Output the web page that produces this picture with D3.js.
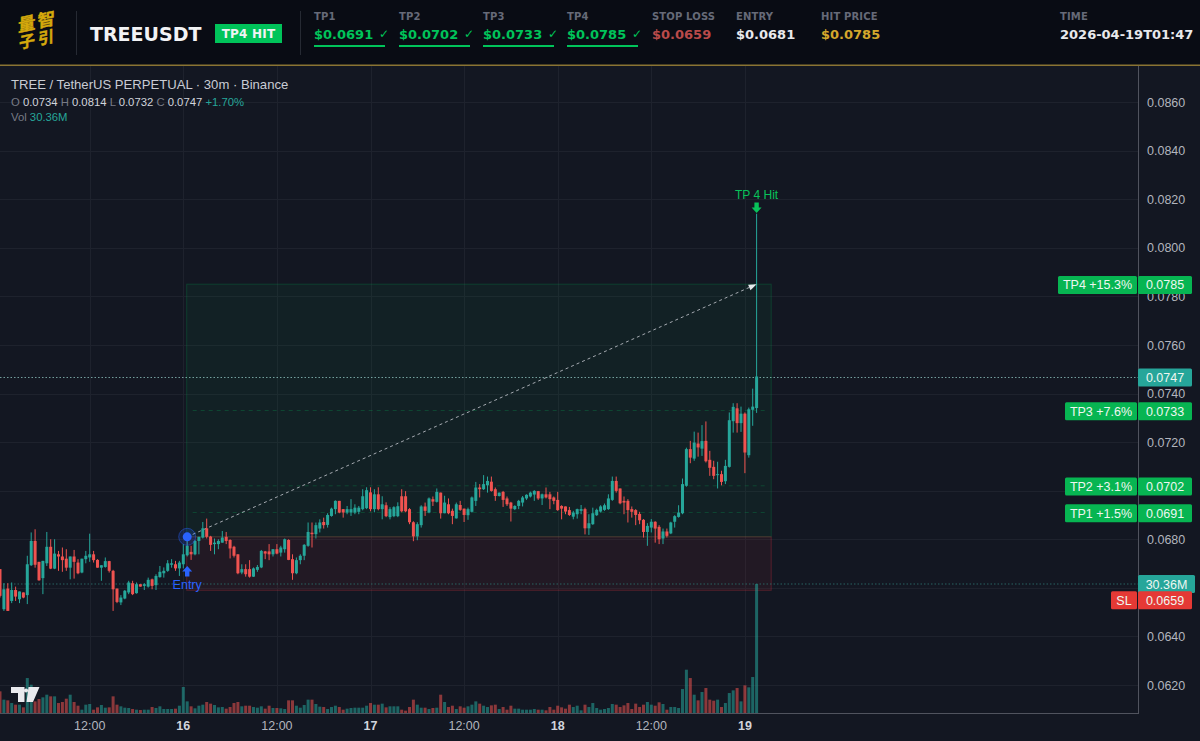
<!DOCTYPE html>
<html><head><meta charset="utf-8">
<script src="https://cdn.jsdelivr.net/npm/d3@7/dist/d3.min.js"></script>
<style>
html,body{margin:0;padding:0;background:#131722;overflow:hidden}
svg{display:block}
text{font-family:"Liberation Sans",Arial,sans-serif}
.hd{font-family:"DejaVu Sans",sans-serif;font-weight:700}
</style></head><body><svg id="c" width="1200" height="741"></svg>
<script>
const opens=[0.06677,0.06512,0.06597,0.06546,0.06591,0.06553,0.06581,0.0657,0.06693,0.06793,
0.06707,0.0664,0.06701,0.06769,0.06679,0.06738,0.06729,0.0672,0.06683,0.06729,
0.06704,0.06663,0.06718,0.06725,0.06738,0.06715,0.06683,0.06686,0.0671,0.0667,
0.06597,0.0654,0.06556,0.06581,0.06619,0.06578,0.06615,0.06608,0.06605,0.06635,
0.06611,0.06644,0.0666,0.0667,0.06695,0.06697,0.0668,0.06697,0.06734,0.06748,
0.06738,0.06793,0.06807,0.06845,0.06811,0.0678,0.0678,0.06786,0.0681,0.06797,
0.06769,0.06738,0.06663,0.06677,0.06677,0.06646,0.06674,0.06684,0.0675,0.0675,
0.06738,0.06759,0.06745,0.06759,0.06797,0.06718,0.0666,0.06714,0.06732,0.06773,
0.06827,0.06821,0.06844,0.06871,0.06859,0.06896,0.06924,0.06958,0.06924,0.0691,
0.0691,0.0691,0.06913,0.06924,0.06928,0.06993,0.06924,0.06985,0.06924,0.0694,
0.06891,0.06895,0.06895,0.06977,0.06977,0.06924,0.0687,0.06812,0.06858,0.06935,
0.0691,0.06965,0.06954,0.06992,0.06907,0.06944,0.06917,0.06886,0.06941,0.06926,
0.06899,0.06913,0.06958,0.07013,0.07006,0.07022,0.07037,0.07006,0.06978,0.06995,
0.06968,0.06951,0.06924,0.06937,0.06951,0.06968,0.06976,0.06984,0.06998,0.06968,
0.06985,0.06985,0.06972,0.06962,0.06937,0.06935,0.0692,0.06893,0.06903,0.06917,
0.06924,0.06845,0.06862,0.06899,0.06914,0.06921,0.06924,0.06962,0.0704,0.07009,
0.06958,0.06958,0.06924,0.0692,0.06904,0.0688,0.0683,0.06848,0.06872,0.06851,
0.06803,0.06832,0.06824,0.06872,0.06892,0.06907,0.0702,0.07171,0.07132,0.07194,
0.07173,0.07205,0.07127,0.07098,0.07064,0.07068,0.07039,0.07098,0.07286,0.07339,
0.07278,0.07317,0.07146,0.07333,0.0734];
const highs=[0.06677,0.06619,0.06619,0.06622,0.06605,0.06585,0.06581,0.06732,0.06828,0.06841,
0.06707,0.06711,0.0683,0.068,0.068,0.06752,0.06766,0.06759,0.06729,0.06756,
0.06718,0.0672,0.06752,0.06823,0.06752,0.06718,0.06693,0.06725,0.06711,0.06674,
0.06597,0.0657,0.06591,0.06629,0.06629,0.06622,0.06615,0.06619,0.06642,0.06638,
0.06656,0.0669,0.06684,0.06714,0.06718,0.06711,0.06711,0.0678,0.06816,0.06773,
0.06797,0.0681,0.06871,0.06885,0.06814,0.06803,0.068,0.06834,0.0683,0.068,
0.06773,0.06738,0.06697,0.06697,0.06714,0.06684,0.06694,0.06756,0.06752,0.0678,
0.06759,0.0678,0.06773,0.06803,0.068,0.06738,0.06725,0.06738,0.0678,0.06869,
0.06869,0.06869,0.06882,0.06889,0.06907,0.0693,0.0696,0.06958,0.06924,0.06937,
0.06965,0.06944,0.06937,0.07006,0.07014,0.07014,0.07006,0.07014,0.06977,0.06952,
0.06932,0.06936,0.06952,0.07006,0.06998,0.06928,0.06874,0.0687,0.0694,0.06951,
0.06972,0.06976,0.07009,0.06992,0.06979,0.06968,0.06926,0.06951,0.06958,0.06926,
0.0693,0.06976,0.07036,0.07027,0.07064,0.07058,0.07058,0.07013,0.06992,0.06999,
0.06976,0.06954,0.0694,0.06962,0.06978,0.06985,0.06996,0.07002,0.06999,0.06988,
0.07013,0.06995,0.06976,0.06995,0.0694,0.06935,0.06933,0.06917,0.06926,0.06941,
0.0693,0.06903,0.0693,0.06926,0.0694,0.06947,0.06985,0.07058,0.07058,0.07009,
0.06976,0.06965,0.06935,0.06924,0.06913,0.06883,0.06866,0.06883,0.06874,0.06858,
0.06844,0.06844,0.06872,0.06899,0.0694,0.0705,0.07177,0.07205,0.07243,0.07239,
0.0727,0.07285,0.07164,0.07123,0.07119,0.07082,0.07127,0.07322,0.0736,0.0736,
0.07346,0.07322,0.07342,0.0742,0.0814];
const lows=[0.0656,0.06505,0.06505,0.06537,0.06546,0.06537,0.06557,0.06533,0.0669,0.06683,
0.06629,0.06574,0.0669,0.06677,0.06677,0.0667,0.06666,0.0667,0.06635,0.06638,
0.06656,0.0666,0.06701,0.06707,0.06704,0.06683,0.06629,0.06683,0.06663,0.06505,
0.06537,0.06529,0.06553,0.06574,0.0657,0.06576,0.06605,0.06591,0.06601,0.06594,
0.06591,0.06642,0.06642,0.06666,0.06683,0.0667,0.06649,0.0668,0.06729,0.06715,
0.06734,0.06738,0.06803,0.06803,0.06752,0.06738,0.06759,0.06786,0.0678,0.06721,
0.06725,0.06656,0.06656,0.06646,0.06642,0.06645,0.06666,0.06681,0.06718,0.06714,
0.06729,0.06738,0.06729,0.06745,0.06714,0.06633,0.06656,0.06697,0.06714,0.06769,
0.06766,0.06803,0.06828,0.06844,0.06848,0.06893,0.06903,0.06907,0.06889,0.06903,
0.06896,0.06903,0.06903,0.06919,0.06924,0.06915,0.06911,0.06919,0.06882,0.06891,
0.06882,0.06891,0.06891,0.06911,0.06911,0.06862,0.06792,0.06796,0.06848,0.06896,
0.06907,0.06937,0.06951,0.06885,0.06907,0.06903,0.06862,0.06885,0.06917,0.06871,
0.0688,0.0691,0.06937,0.06972,0.07003,0.06992,0.06996,0.06958,0.06976,0.06933,
0.06937,0.06873,0.0692,0.06924,0.06935,0.06962,0.06972,0.06958,0.06962,0.06941,
0.06968,0.06924,0.06944,0.06917,0.06882,0.06903,0.06896,0.06882,0.06885,0.06903,
0.0682,0.06818,0.06859,0.06896,0.0691,0.06917,0.06921,0.06958,0.06992,0.06944,
0.06903,0.06869,0.06889,0.06858,0.06862,0.06807,0.06773,0.06828,0.06786,0.0678,
0.0678,0.06807,0.06821,0.06848,0.06889,0.06903,0.07016,0.07113,0.07123,0.0714,
0.07143,0.07116,0.07061,0.07047,0.07009,0.07022,0.07027,0.07095,0.07239,0.07239,
0.07242,0.07072,0.07136,0.07267,0.0732];
const closes=[0.06567,0.06594,0.06505,0.06591,0.06564,0.06585,0.0656,0.06697,0.06793,0.06695,
0.06631,0.06711,0.06769,0.06679,0.06741,0.06729,0.06714,0.06683,0.06729,0.06707,
0.0666,0.0672,0.06732,0.06738,0.06714,0.06683,0.06693,0.0671,0.0667,0.06594,
0.06542,0.0656,0.06588,0.06622,0.06574,0.06615,0.06605,0.06615,0.06633,0.06608,
0.06649,0.06666,0.0667,0.06701,0.06701,0.0668,0.06704,0.06738,0.06773,0.06738,
0.06793,0.0681,0.06845,0.0681,0.06777,0.06786,0.06793,0.06807,0.06793,0.06762,
0.06732,0.0666,0.06677,0.06656,0.06646,0.0668,0.06686,0.06752,0.06741,0.06738,
0.06759,0.06741,0.06766,0.068,0.06715,0.0666,0.06714,0.06732,0.06777,0.0683,
0.06821,0.06858,0.06869,0.06858,0.069,0.06926,0.06958,0.0691,0.0691,0.06924,
0.06924,0.0693,0.0693,0.06977,0.07002,0.06924,0.06985,0.06924,0.06944,0.06895,
0.06924,0.06932,0.06936,0.06915,0.06915,0.0687,0.06812,0.06862,0.06935,0.06917,
0.06968,0.06955,0.06995,0.06907,0.06951,0.06907,0.06896,0.06944,0.06921,0.069,
0.06924,0.06972,0.07013,0.07006,0.07027,0.0704,0.06999,0.06978,0.06992,0.06962,
0.06944,0.06926,0.06937,0.06958,0.06972,0.06983,0.06992,0.06999,0.06968,0.06985,
0.06972,0.06965,0.06958,0.0692,0.06926,0.06914,0.069,0.0691,0.06924,0.06924,
0.06845,0.06866,0.06907,0.06921,0.06935,0.0694,0.06968,0.0704,0.06999,0.06948,
0.06951,0.0692,0.06913,0.069,0.06878,0.0683,0.06855,0.06872,0.06844,0.068,
0.06832,0.06814,0.06869,0.06895,0.0691,0.07027,0.07171,0.07136,0.07198,0.07178,
0.07204,0.07121,0.07094,0.07061,0.07068,0.07036,0.07102,0.0729,0.07345,0.07278,
0.07317,0.07157,0.07335,0.07346,0.0747];
const volumes=[5.1,3.14,2.98,2.35,1.96,1.96,1.33,8.23,6.66,2.74,
3.29,3.68,4.31,3.92,3.92,2.35,2.59,3.37,4.31,2.59,
1.72,0.78,1.96,2.12,0.78,1.33,1.88,1.25,1.33,3.92,
1.96,1.57,1.25,1.18,0.94,0.78,0.71,0.78,0.78,1.41,
1.18,1.57,0.94,0.94,0.94,1.02,1.72,6.12,2.74,1.57,
1.1,1.72,1.96,2.59,2.2,1.88,1.33,1.41,1.02,1.41,
2.35,2.59,1.57,1.72,1.72,1.41,1.25,1.57,1.02,1.72,
1.18,1.18,1.1,0.94,2.98,2.98,1.72,1.25,1.88,3.14,
3.14,2.12,1.49,1.41,0.94,1.41,1.72,1.41,0.78,1.02,
1.18,1.25,1.25,1.25,1.72,2.35,1.96,1.96,2.2,1.33,
1.57,1.57,1.57,0.78,0.55,1.41,3.14,1.96,1.25,1.25,
0.94,1.18,1.25,4.31,2.59,1.41,1.72,0.94,1.57,1.25,
1.57,1.96,2.74,2.2,1.72,1.41,1.8,1.96,0.94,1.41,
0.78,1.72,1.02,1.02,0.78,0.78,0.78,0.94,0.78,0.78,
0.63,1.41,0.78,1.72,1.33,1.02,1.96,1.41,1.72,0.63,
1.96,1.41,2.35,1.18,0.78,0.94,1.18,2.12,1.96,1.41,
1.8,2.35,0.94,2.2,1.41,1.96,2.59,1.96,1.72,2.51,
2.12,0.78,1.41,1.41,1.18,5.64,10.19,8.23,4.31,2.98,
4.94,5.88,3.14,2.9,3.14,1.41,2.35,4.7,5.33,5.88,
2.74,6.51,6.04,8.47,30.36];
const priceTicks=[0.0860,0.0840,0.0820,0.0800,0.0780,0.0760,0.0740,0.0720,0.0700,0.0680,0.0660,0.0640,0.0620];
const hiddenPriceLabels=[0.0700,0.0660];
const timeTicks=["2026-04-15T12:00Z","2026-04-16T00:00Z","2026-04-16T12:00Z","2026-04-17T00:00Z","2026-04-17T12:00Z","2026-04-18T00:00Z","2026-04-18T12:00Z","2026-04-19T00:00Z"];
const timeLabels=["12:00","16","12:00","17","12:00","18","12:00","19"];
const startTime="2026-04-15T00:30Z";
const endTime="2026-04-19T01:30Z";
const zoneStart="2026-04-16T00:30Z";
const zoneEnd="2026-04-19T03:30Z";
const entry=0.0681, stopLoss=0.0659, lastPrice=0.0747, hitPrice=0.0785, lastVol=30.36;
const tpLevels=[0.0691,0.0702,0.0733,0.0785];
const tpTags=["TP1 +1.5%","TP2 +3.1%","TP3 +7.6%","TP4 +15.3%"];
const headerLabels=["TP1","TP2","TP3","TP4","STOP LOSS","ENTRY","HIT PRICE","TIME"];
const headerValues=["$0.0691","$0.0702","$0.0733","$0.0785","$0.0659","$0.0681","$0.0785","2026-04-19T01:47"];
const headerColors=["#00c45a","#00c45a","#00c45a","#00c45a","#b94a4a","#e8e9ec","#d4a72c","#e8e9ec"];
const headerX=[314,399,483,567,652,736,821,1060];

const GREEN="#26a69a",RED="#ef5350",TPG="#07b552",BUY="#2962ff",GRID="#1e222d",TXT="#b2b5be";
const svg=d3.select("#c");
const start=new Date(startTime),end=new Date(endTime);
const step=30*60*1000;
const times=opens.map((_,i)=>new Date(+start+i*step));
const x=d3.scaleUtc().domain([start,end]).range([0,756.6]);
const y=d3.scaleLinear().domain([0.0860,0.0620]).range([102,685]);
const yVol=d3.scaleLinear().domain([0,lastVol]).range([713,584]);
const CW=1138,CT=66,CB=713;

svg.append("rect").attr("width",1200).attr("height",741).attr("fill","#131722");

// grid
const grid=svg.append("g").attr("stroke",GRID).attr("stroke-width",1);
grid.selectAll(".h").data(priceTicks).join("line").attr("x1",0).attr("x2",CW).attr("y1",d=>Math.round(y(d))+.5).attr("y2",d=>Math.round(y(d))+.5);
grid.selectAll(".v").data(timeTicks).join("line").attr("y1",CT).attr("y2",CB).attr("x1",d=>Math.round(x(new Date(d)))+.5).attr("x2",d=>Math.round(x(new Date(d)))+.5);

// zones
const zx0=x(new Date(zoneStart))-.5, zx1=x(new Date(zoneEnd))-1;
svg.append("rect").attr("x",zx0).attr("width",zx1-zx0).attr("y",y(hitPrice)).attr("height",y(entry)-y(hitPrice))
 .attr("fill","rgba(8,153,80,.08)").attr("stroke","rgba(8,153,80,.28)");
svg.append("rect").attr("x",zx0).attr("width",zx1-zx0).attr("y",y(entry)).attr("height",y(stopLoss)-y(entry))
 .attr("fill","rgba(242,54,69,.07)").attr("stroke","rgba(242,54,69,.28)");
svg.append("g").selectAll("line").data(tpLevels.slice(0,3)).join("line")
 .attr("x1",zx0+6).attr("x2",zx1-4).attr("y1",d=>y(d)).attr("y2",d=>y(d))
 .attr("stroke","rgba(8,153,80,.3)").attr("stroke-dasharray","4 4");

// price / volume guide lines
svg.append("line").attr("x1",0).attr("x2",CW).attr("y1",y(lastPrice)+1).attr("y2",y(lastPrice)+1)
 .attr("stroke","#9fd9d3").attr("stroke-opacity",.7).attr("stroke-dasharray","1.5 2");
svg.append("line").attr("x1",0).attr("x2",CW).attr("y1",yVol(lastVol)).attr("y2",yVol(lastVol))
 .attr("stroke","#2a6a68").attr("stroke-opacity",.9).attr("stroke-dasharray","1.5 2");

// volume
const bw=3;
svg.append("g").selectAll("rect").data(volumes).join("rect")
 .attr("x",(d,i)=>x(times[i])-bw/2).attr("width",bw)
 .attr("y",d=>yVol(d)).attr("height",d=>yVol(0)-yVol(d))
 .attr("fill",(d,i)=>closes[i]>=opens[i]?GREEN:RED).attr("fill-opacity",.55);

// trade arrow
const ax0=x(times[48]),ay0=y(entry),ax1=x(times[194]),ay1=y(hitPrice);
svg.append("line").attr("x1",ax0).attr("y1",ay0).attr("x2",ax1).attr("y2",ay1)
 .attr("stroke","#c9ccd3").attr("stroke-opacity",.8).attr("stroke-width",1).attr("stroke-dasharray","3 3");

// candles
const cand=svg.append("g").selectAll("g").data(opens).join("g");
cand.append("line").attr("x1",(d,i)=>x(times[i])).attr("x2",(d,i)=>x(times[i]))
 .attr("y1",(d,i)=>y(highs[i])).attr("y2",(d,i)=>y(lows[i]))
 .attr("stroke",(d,i)=>closes[i]>=opens[i]?GREEN:RED).attr("stroke-width",1);
cand.append("rect").attr("x",(d,i)=>x(times[i])-bw/2).attr("width",bw)
 .attr("y",(d,i)=>y(Math.max(opens[i],closes[i])))
 .attr("height",(d,i)=>Math.max(1,Math.abs(y(opens[i])-y(closes[i]))))
 .attr("fill",(d,i)=>closes[i]>=opens[i]?GREEN:RED);

// arrow head sits on the last candle's wick
const ang=Math.atan2(ay1-ay0,ax1-ax0)*180/Math.PI;
svg.append("path").attr("d","M0 0L-8 -3L-8 3Z").attr("fill","#e6e8ec").attr("transform",`translate(${ax1},${ay1}) rotate(${ang})`);

// entry marker
svg.append("circle").attr("cx",ax0).attr("cy",ay0).attr("r",8.5).attr("fill","rgba(41,98,255,.18)").attr("stroke","rgba(41,98,255,.45)");
svg.append("circle").attr("cx",ax0).attr("cy",ay0).attr("r",4.5).attr("fill",BUY);
svg.append("path").attr("fill",BUY).attr("transform",`translate(${ax0},566)`).attr("d","M0 0L5 5.5H2.2V10.5H-2.2V5.5H-5Z");
svg.append("text").attr("x",ax0).attr("y",589).attr("text-anchor","middle").attr("font-size",12.5).attr("fill",BUY).text("Entry");

// TP hit marker
const hx=x(times[194]);
svg.append("text").attr("x",hx).attr("y",199).attr("text-anchor","middle").attr("font-size",12).attr("fill","#08c35a").text("TP 4 Hit");
svg.append("path").attr("fill","#08c35a").attr("transform",`translate(${hx},213)`).attr("d","M0 0L-5 -5.5H-2.2V-10.5H2.2V-5.5H5Z");

// TV logo
svg.append("path").attr("fill","#e9eaee").attr("d","M11 687H24.5V702H18V693H11ZM28.5 687H39.5L33 702H26.5Z");
svg.append("circle").attr("cx",26).attr("cy",690.5).attr("r",2.1).attr("fill","#e9eaee");

// axes
svg.append("rect").attr("x",CW).attr("y",CT).attr("width",62).attr("height",675).attr("fill","#131722");
svg.append("rect").attr("x",0).attr("y",CB).attr("width",1200).attr("height",28).attr("fill","#131722");
svg.append("line").attr("x1",CW+.5).attr("x2",CW+.5).attr("y1",CT).attr("y2",CB+.5).attr("stroke","#50535e");
svg.append("line").attr("x1",0).attr("x2",CW+1).attr("y1",CB+.5).attr("y2",CB+.5).attr("stroke","#50535e");
const yAxis=d3.axisRight(y).tickValues(priceTicks).tickFormat(d=>hiddenPriceLabels.includes(d)?"":d3.format(".4f")(d)).tickSize(0).tickPadding(9);
const ga=svg.append("g").attr("transform",`translate(${CW},0)`).call(yAxis);
ga.select(".domain").remove();
ga.selectAll("text").attr("font-size",12.5).attr("fill",TXT).attr("font-family",'"Liberation Sans",Arial,sans-serif').attr("dy",".33em");
const xAxis=d3.axisBottom(x).tickValues(timeTicks.map(d=>new Date(d))).tickFormat((d,i)=>timeLabels[i]).tickSize(0).tickPadding(8);
const gx=svg.append("g").attr("transform",`translate(-0.5,${CB})`).call(xAxis);
gx.select(".domain").remove();
gx.selectAll("text").attr("font-size",12.5).attr("font-family",'"Liberation Sans",Arial,sans-serif')
 .attr("fill",(d,i)=>timeLabels[i].length<3?"#d1d4dc":TXT).attr("font-weight",(d,i)=>timeLabels[i].length<3?700:400);

// price tags
function tag(x0,w,cy,fill,label){
  svg.append("rect").attr("x",x0).attr("y",cy-9).attr("width",w).attr("height",18).attr("rx",1.5).attr("fill",fill);
  svg.append("text").attr("y",cy+4.5).attr("font-size",12.5).attr("fill","#eef7f1").text(label)
   .attr("x",x0+w/2).attr("text-anchor","middle");
}
tpLevels.forEach((p,i)=>{
  const cy=y(p)+.8;
  const w=tpTags[i].length>9?79:72;
  tag(1137-w,w,cy,TPG,tpTags[i]);
  tag(CW,54,cy,TPG,p.toFixed(4));
});
tag(CW,54,y(lastPrice)+1,GREEN,lastPrice.toFixed(4));
tag(CW,57,yVol(lastVol),GREEN,lastVol.toFixed(2)+"M");
const slY=y(stopLoss)+10;
tag(1111,26,slY,"#e53935","SL");
tag(CW,54,slY,"#e53935",stopLoss.toFixed(4));

// legend
svg.append("text").attr("x",11).attr("y",89).attr("font-size",13.1).attr("fill","#c9ccd4").text("TREE / TetherUS PERPETUAL · 30m · Binance");
const l2=svg.append("text").attr("x",11).attr("y",106).attr("font-size",11.3);
[["O ","#787b86"],["0.0734 ","#d1d4dc"],["H ","#787b86"],["0.0814 ","#d1d4dc"],["L ","#787b86"],["0.0732 ","#d1d4dc"],["C ","#787b86"],["0.0747 ","#d1d4dc"],["+1.70%",GREEN]]
 .forEach(s=>l2.append("tspan").attr("fill",s[1]).text(s[0]));
const l3=svg.append("text").attr("x",11).attr("y",121).attr("font-size",11.3);
[["Vol ","#787b86"],["30.36M",GREEN]].forEach(s=>l3.append("tspan").attr("fill",s[1]).text(s[0]));

// header
svg.append("rect").attr("width",1200).attr("height",65).attr("fill","#090c14");
svg.append("rect").attr("y",64.5).attr("width",1200).attr("height",1.5).attr("fill","#8a7433");
[76,300].forEach(px=>svg.append("line").attr("x1",px+.5).attr("x2",px+.5).attr("y1",11).attr("y2",55).attr("stroke","#262a33"));
const logo=svg.append("g").attr("fill","#d4a90c").attr("stroke","#d4a90c").attr("stroke-width",.4);
logo.append("text").attr("transform","translate(18,32) skewY(-12)").style("font-family",'"Noto Sans CJK SC",sans-serif').attr("font-weight",700).attr("font-size",17.5).attr("letter-spacing",2).text("量智");
logo.append("text").attr("transform","translate(19,49) skewY(-12)").style("font-family",'"Noto Sans CJK SC",sans-serif').attr("font-weight",700).attr("font-size",16).attr("letter-spacing",3).text("子引");
svg.append("text").attr("class","hd").attr("x",90).attr("y",41).attr("font-size",19).attr("fill","#f2f3f5").text("TREEUSDT");
svg.append("rect").attr("x",215).attr("y",24).attr("width",67).attr("height",19).attr("fill","#00c45a");
svg.append("text").attr("class","hd").attr("x",248.5).attr("y",38).attr("text-anchor","middle").attr("font-size",12).attr("letter-spacing",.2).attr("fill","#f2f3f5").text("TP4 HIT");
headerLabels.forEach((t,i)=>{
  svg.append("text").attr("class","hd").attr("x",headerX[i]).attr("y",20).attr("font-size",10).attr("letter-spacing",.15).attr("fill","#666a78").text(t);
  svg.append("text").attr("class","hd").attr("x",headerX[i]).attr("y",39).attr("font-size",13).attr("fill",headerColors[i]).text(headerValues[i]);
  if(i<4){
    svg.append("text").attr("x",headerX[i]+65).attr("y",38).attr("font-size",12).attr("fill",headerColors[i]).style("font-family",'"DejaVu Sans"').text("✓");
    svg.append("rect").attr("x",headerX[i]).attr("y",45).attr("width",71).attr("height",2).attr("fill",headerColors[i]);
  }
});
</script></body></html>
